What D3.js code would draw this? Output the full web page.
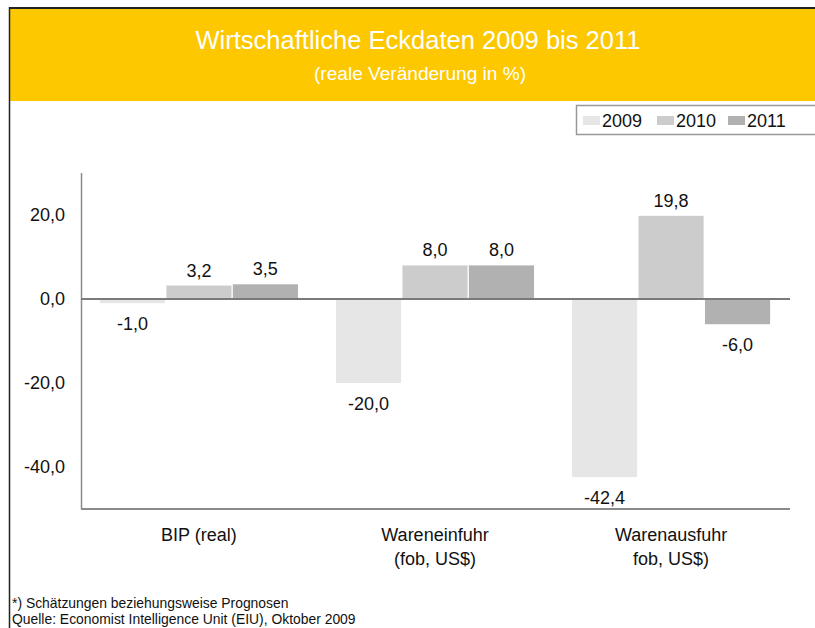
<!DOCTYPE html>
<html>
<head>
<meta charset="utf-8">
<script src="https://cdn.jsdelivr.net/npm/d3@7"></script>
<style>
  body { margin: 0; background: #fff; }
  svg { display: block; font-family: "Liberation Sans", Arial, sans-serif; }
</style>
</head>
<body>
<div id="chart"></div>
<script>
// chart data
const categories = [['BIP (real)'], ['Wareneinfuhr', '(fob, US$)'], ['Warenausfuhr', 'fob, US$)']];
const years = ['2009', '2010', '2011'];
const values2009 = [-1.0, -20.0, -42.4];
const values2010 = [3.2, 8.0, 19.8];
const values2011 = [3.5, 8.0, -6.0];
const yTicks = [20, 0, -20, -40];
const yearColors = ['#e6e6e6', '#cccccc', '#b1b1b1'];

const W = 815, H = 628;
const fmt = v => v.toFixed(1).replace('.', ',');

const svg = d3.select('#chart').append('svg')
  .attr('width', W).attr('height', H);

// frame and header band
svg.append('rect').attr('x', 9).attr('y', 8).attr('width', W - 9).attr('height', 93).attr('fill', '#fdc800');
svg.append('line').attr('x1', 9).attr('x2', W).attr('y1', 8).attr('y2', 8).attr('stroke', '#222').attr('stroke-width', 2);
svg.append('line').attr('x1', 9.5).attr('x2', 9.5).attr('y1', 7).attr('y2', H).attr('stroke', '#222').attr('stroke-width', 1.5);

svg.append('text').attr('x', 418).attr('y', 49).attr('text-anchor', 'middle')
  .attr('fill', '#fff').attr('font-size', 26).attr('textLength', 445).attr('lengthAdjust', 'spacingAndGlyphs')
  .text('Wirtschaftliche Eckdaten 2009 bis 2011');
svg.append('text').attr('x', 420).attr('y', 80).attr('text-anchor', 'middle')
  .attr('fill', '#fff').attr('font-size', 18).attr('textLength', 212).attr('lengthAdjust', 'spacingAndGlyphs')
  .text('(reale Veränderung in %)');

// scales
const x0 = d3.scaleBand().domain(d3.range(categories.length)).range([81, 789]).paddingInner(0.161).paddingOuter(0.08);
const x1 = d3.scaleBand().domain(years).range([0, x0.bandwidth()]).paddingInner(0.02);
const y = d3.scaleLinear().domain([-50, 30]).range([509, 173]);

const series = years.map((yr, i) => ({ year: yr, color: yearColors[i], values: [values2009, values2010, values2011][i] }));

// axes
svg.append('line').attr('x1', 81.5).attr('x2', 81.5).attr('y1', y(30)).attr('y2', y(-50)).attr('stroke', '#8a8a8a').attr('stroke-width', 1.5);
svg.append('line').attr('x1', 81).attr('x2', 790).attr('y1', y(-50)).attr('y2', y(-50)).attr('stroke', '#8a8a8a').attr('stroke-width', 2);

svg.selectAll('.ytick').data(yTicks).enter().append('text')
  .attr('class', 'ytick')
  .attr('x', 65).attr('y', d => y(d) + 6)
  .attr('text-anchor', 'end').attr('font-size', 18).attr('fill', '#111')
  .text(fmt);

// bars
const groups = svg.selectAll('.grp').data(series).enter().append('g').attr('class', 'grp');
groups.selectAll('rect').data(s => s.values.map((v, i) => ({ v, i, s }))).enter().append('rect')
  .attr('x', d => x0(d.i) + x1(d.s.year))
  .attr('width', x1.bandwidth())
  .attr('y', d => y(Math.max(0, d.v)))
  .attr('height', d => Math.abs(y(d.v) - y(0)))
  .attr('fill', d => d.s.color);

groups.selectAll('text').data(s => s.values.map((v, i) => ({ v, i, s }))).enter().append('text')
  .attr('x', d => x0(d.i) + x1(d.s.year) + x1.bandwidth() / 2)
  .attr('y', d => d.v >= 0 ? y(d.v) - 9 : y(d.v) + 27)
  .attr('text-anchor', 'middle').attr('font-size', 18).attr('fill', '#111')
  .text(d => fmt(d.v));

// zero line
svg.append('line').attr('x1', 81).attr('x2', 790).attr('y1', y(0)).attr('y2', y(0)).attr('stroke', '#7a7a7a').attr('stroke-width', 2);

// category labels
categories.forEach((lines, i) => {
  const t = svg.append('text').attr('text-anchor', 'middle').attr('font-size', 18).attr('fill', '#111');
  lines.forEach((ln, j) => {
    t.append('tspan').attr('x', x0(i) + x0.bandwidth() / 2).attr('y', 541 + j * 24).text(ln);
  });
});

// legend
svg.append('rect').attr('x', 576.5).attr('y', 105.5).attr('width', 250).attr('height', 29)
  .attr('fill', '#fff').attr('stroke', '#999').attr('stroke-width', 1.5);
const legendX = [583, 657, 728];
const leg = svg.selectAll('.leg').data(series).enter().append('g').attr('class', 'leg')
  .attr('transform', (d, i) => `translate(${legendX[i]},0)`);
leg.append('rect').attr('x', 0).attr('y', 116).attr('width', 17).attr('height', 9).attr('fill', d => d.color);
leg.append('text').attr('x', 19).attr('y', 127).attr('font-size', 18).attr('fill', '#111').text(d => d.year);

// footnotes
svg.append('text').attr('x', 12).attr('y', 608).attr('font-size', 13.9).attr('fill', '#111')
  .text('*) Schätzungen beziehungsweise Prognosen');
svg.append('text').attr('x', 12).attr('y', 624).attr('font-size', 13.9).attr('fill', '#111')
  .text('Quelle: Economist Intelligence Unit (EIU), Oktober 2009');
</script>
</body>
</html>
